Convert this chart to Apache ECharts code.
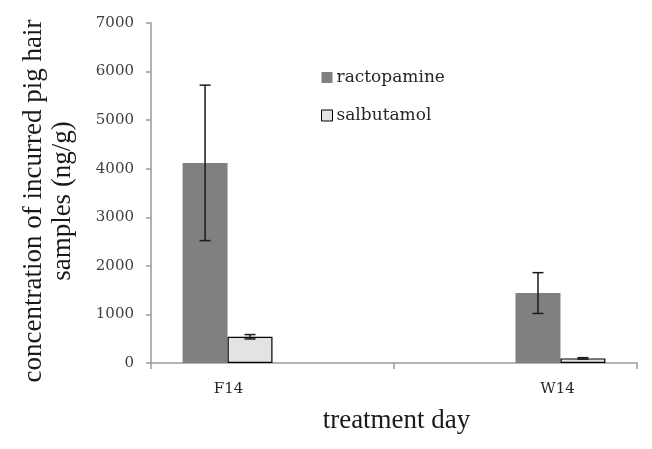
<!DOCTYPE html>
<html>
<head>
<meta charset="utf-8">
<script src="https://cdn.jsdelivr.net/npm/echarts@6/dist/echarts.min.js"></script>
<style>html,body{margin:0;padding:0;background:#fff;}#c{width:652px;height:449px;}</style>
</head>
<body>
<div id="c"></div>
<script>
var categories = ['F14', 'W14'];
var seriesNames = ['ractopamine', 'salbutamol'];
var ractopamine = [4120, 1440];
var ractopamineErr = [1600, 420];
var salbutamol = [540, 95];
var salbutamolErr = [45, 15];
var yTicks = [0, 1000, 2000, 3000, 4000, 5000, 6000, 7000];

var FONT = '"Liberation Serif", "DejaVu Serif", serif';
var FONT2 = '"DejaVu Serif", serif';
var GAP = 0.26; // bar category gap fraction
var SLOTS = 4;

// 4 slots: rac F14, sal F14, rac W14, sal W14
var slotDefs = [
  {name: seriesNames[0], cat: 0, vals: ractopamine, errs: ractopamineErr, color: '#808080', border: null},
  {name: seriesNames[1], cat: 0, vals: salbutamol, errs: salbutamolErr, color: '#e3e3e3', border: '#000'},
  {name: seriesNames[0], cat: 1, vals: ractopamine, errs: ractopamineErr, color: '#808080', border: null},
  {name: seriesNames[1], cat: 1, vals: salbutamol, errs: salbutamolErr, color: '#e3e3e3', border: '#000'}
];

var series = [];
slotDefs.forEach(function (s) {
  var d = categories.map(function (c, k) { return k === s.cat ? s.vals[k] : '-'; });
  series.push({
    type: 'bar', name: s.name, data: d, barGap: 0, barCategoryGap: (GAP * 100) + '%',
    itemStyle: s.border ? {color: s.color, borderColor: s.border, borderWidth: 1.2} : {color: s.color},
    emphasis: {disabled: true}, silent: true
  });
});

var errData = slotDefs.map(function (s, i) {
  return [s.cat, s.vals[s.cat], s.errs[s.cat], i];
});
series.push({
  type: 'custom', name: 'err', silent: true, z: 10,
  data: errData,
  encode: {x: 0, y: 1},
  renderItem: function (params, api) {
    var cat = api.value(0), v = api.value(1), e = api.value(2), slot = api.value(3);
    var cw = api.size([1, 0])[0];
    var base = api.coord([cat, v]);
    var groupW = cw * (1 - GAP);
    var sw = groupW / SLOTS;
    var x = base[0] - groupW / 2 + (slot + 0.5) * sw;
    var hi = api.coord([cat, v + e])[1];
    var lo = api.coord([cat, v - e])[1];
    var cap = 5.5;
    var st = {stroke: '#1a1a1a', lineWidth: 1.5};
    return {type: 'group', children: [
      {type: 'line', shape: {x1: x, y1: hi, x2: x, y2: lo}, style: st},
      {type: 'line', shape: {x1: x - cap, y1: hi, x2: x + cap, y2: hi}, style: st},
      {type: 'line', shape: {x1: x - cap, y1: lo, x2: x + cap, y2: lo}, style: st}
    ]};
  }
});

var chart = echarts.init(document.getElementById('c'));
chart.setOption({
  animation: false,
  backgroundColor: '#fff',
  grid: {left: 151, right: 15, top: 23, bottom: 86, outerBoundsMode: 'none', containLabel: false},
  legend: {
    data: seriesNames.map(function (n, i) {
      return {name: n, itemStyle: i === 1 ? {color: '#e3e3e3', borderColor: '#000', borderWidth: 1} : {color: '#808080'}};
    }),
    orient: 'vertical', left: 321, top: 69, padding: 0, itemWidth: 11, itemHeight: 11, itemGap: 21,
    icon: 'rect',
    textStyle: {fontFamily: FONT2, fontSize: 17, color: '#262626', padding: [0, 0, 0, -1]}
  },
  xAxis: {
    type: 'category', data: categories,
    axisLine: {lineStyle: {color: '#9a9a9a', width: 1.5}},
    axisTick: {show: true, length: 6, lineStyle: {color: '#9a9a9a', width: 1.5}},
    axisLabel: {
      fontFamily: FONT2, fontSize: 15, color: '#262626', margin: 19,
      formatter: function (v, i) { return i === 0 ? '{l|' + v + '}' : '{r|' + v + '}'; },
      rich: {
        l: {fontFamily: FONT2, fontSize: 15, color: '#262626', padding: [0, 88, 0, 0]},
        r: {fontFamily: FONT2, fontSize: 15, color: '#262626', padding: [0, 0, 0, 84]}
      }
    },
    name: 'treatment day', nameLocation: 'middle', nameGap: 44,
    nameTextStyle: {fontFamily: FONT, fontSize: 27, color: '#1a1a1a', padding: [0, 0, 0, 5]}
  },
  yAxis: {
    type: 'value', min: yTicks[0], max: yTicks[yTicks.length - 1], interval: 1000,
    axisLine: {show: true, lineStyle: {color: '#9a9a9a', width: 1.5}},
    axisTick: {show: true, length: 5, lineStyle: {color: '#9a9a9a', width: 1.5}},
    splitLine: {show: false},
    axisLabel: {fontFamily: FONT2, fontSize: 15, color: '#404040', margin: 17,
      formatter: function (v) { return String(v); }},
    name: 'concentration of incurred pig hair\nsamples (ng/g)', nameLocation: 'middle', nameGap: 74,
    nameTextStyle: {fontFamily: FONT, fontSize: 27, color: '#1a1a1a', lineHeight: 29, padding: [0, 16, 0, 0]}
  },
  series: series
});
</script>
</body>
</html>
